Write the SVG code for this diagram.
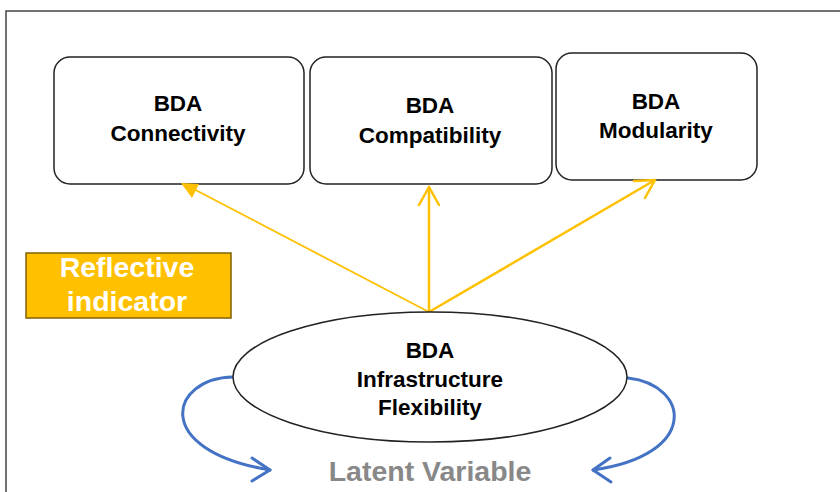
<svg xmlns="http://www.w3.org/2000/svg" width="840" height="492" viewBox="0 0 840 492">
<defs>
<style>
.box{fill:#fff;stroke:#222;stroke-width:1.5}
.t{font-family:"Liberation Sans",Arial,sans-serif;font-weight:bold;font-size:22.5px;fill:#000;text-anchor:middle}
.y{stroke:#FFC000;fill:none;stroke-linecap:round;stroke-linejoin:round}
.b{stroke:#4472C4;stroke-width:3;fill:none;stroke-linecap:round;stroke-linejoin:round}
</style>
</defs>
<rect x="0" y="0" width="840" height="492" fill="#fff"/>
<rect x="6" y="11" width="850" height="500" fill="none" stroke="#444" stroke-width="1.5"/>
<g id="connectivity">
<rect class="box" x="54" y="57" width="250" height="127" rx="16"/>
<text class="t" x="178" y="111">BDA</text>
<text class="t" x="178" y="141">Connectivity</text>
</g>
<g id="compatibility">
<rect class="box" x="310" y="57" width="242" height="127" rx="16"/>
<text class="t" x="430" y="113">BDA</text>
<text class="t" x="430" y="143">Compatibility</text>
</g>
<g id="modularity">
<rect class="box" x="556" y="53" width="201" height="127" rx="16"/>
<text class="t" x="656" y="109">BDA</text>
<text class="t" x="656" y="138">Modularity</text>
</g>
<g id="reflective">
<rect x="26" y="253" width="205" height="65" fill="#FFC000" stroke="#7F6000" stroke-width="1.5"/>
<text class="t" x="127" y="277" style="fill:#fff;font-size:28.5px">Reflective</text>
<text class="t" x="127" y="311" style="fill:#fff;font-size:28.5px">indicator</text>
</g>
<g id="connectors">
<path class="y" d="M429 312 L186 185" stroke-width="1.8"/>
<path d="M181 183 L199 184 L192 198 Z" fill="#FFC000"/>
<path class="y" d="M429 312 L429 187" stroke-width="2.5"/>
<path class="y" d="M419 205 L429 187 L439 205" stroke-width="2.5"/>
<path class="y" d="M429 312 L655 180" stroke-width="2.5"/>
<path class="y" d="M634 181 L655 180 L645 198" stroke-width="2.5"/>
<path class="b" d="M233 377 C170 378 150 450 270 470"/>
<path class="b" d="M252 458 L270 470 L252 481"/>
<path class="b" d="M628 378 C690 385 700 455 593 470"/>
<path class="b" d="M610 458 L593 470 L611 482"/>
</g>
<g id="latent">
<ellipse cx="430" cy="377" rx="197" ry="65" fill="#fff" stroke="#222" stroke-width="1.5"/>
<text class="t" x="430" y="358">BDA</text>
<text class="t" x="430" y="387">Infrastructure</text>
<text class="t" x="430" y="415">Flexibility</text>
</g>
<text class="t" x="430" y="481" style="fill:#888;font-size:28.5px">Latent Variable</text>
</svg>
